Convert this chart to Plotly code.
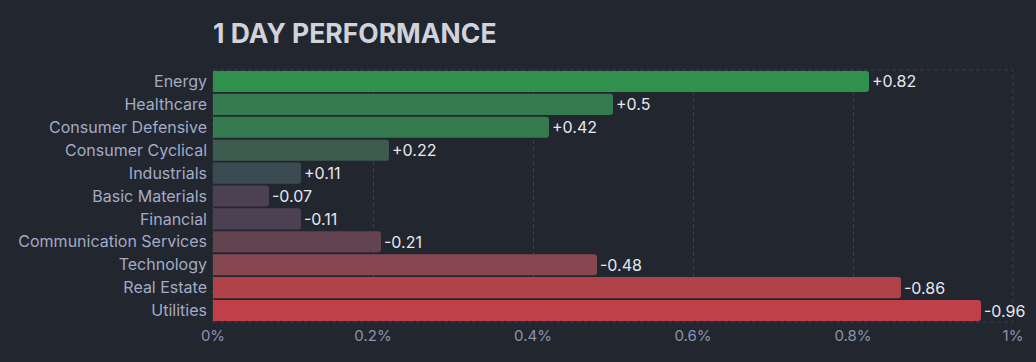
import plotly.graph_objects as go

sectors = ["Energy", "Healthcare", "Consumer Defensive", "Consumer Cyclical", "Industrials",
           "Basic Materials", "Financial", "Communication Services", "Technology",
           "Real Estate", "Utilities"]
changes = [0.82, 0.5, 0.42, 0.22, 0.11, -0.07, -0.11, -0.21, -0.48, -0.86, -0.96]
bar_colors = ["#30914f", "#367a50", "#367a50", "#3d5c4f", "#3c4a53", "#4c4152", "#4c4152",
              "#62434f", "#864750", "#b0434a", "#bf4048"]
x_ticks = [0, 0.2, 0.4, 0.6, 0.8, 1.0]
x_tick_labels = ["0%", "0.2%", "0.4%", "0.6%", "0.8%", "1%"]

labels = [("+" if v > 0 else "") + f"{v:g}" for v in changes]

fig = go.Figure(go.Bar(
    x=[abs(v) for v in changes],
    y=sectors,
    orientation="h",
    marker=dict(color=bar_colors, line=dict(width=0)),
    text=labels,
    textposition="outside",
    textfont=dict(color="#e6e8ee", size=16, family="Inter"),
    cliponaxis=False,
    hoverinfo="skip",
))

bg = "#22262f"
grid = "#3a3f4b"
fig.update_layout(
    width=1036, height=362,
    paper_bgcolor=bg, plot_bgcolor=bg,
    margin=dict(l=213, r=23, t=70, b=40),
    bargap=0.08,
    barcornerradius=3,
    showlegend=False,
    font=dict(family="Inter", color="#a3abc5", size=16),
    title=dict(text="<b>1 DAY PERFORMANCE</b>", x=213 / 1036, xanchor="left",
               y=1 - 33.5 / 362, yanchor="middle",
               font=dict(size=26.5, color="#d0d3dc", family="Inter")),
    xaxis=dict(range=[0, 1], tickvals=x_ticks, ticktext=x_tick_labels,
               showgrid=True, gridcolor=grid, griddash="4px,3px", gridwidth=1,
               zeroline=False, showline=False, ticks="", ticklabelstandoff=3,
               tickfont=dict(size=15, color="#8a94b0")),
    yaxis=dict(autorange="reversed", showgrid=False, zeroline=False, showline=False,
               ticks="", ticklabelstandoff=5,
               tickfont=dict(size=16, color="#a3abc5")),
    shapes=[dict(type="rect", xref="paper", yref="paper", x0=0, x1=1, y0=0, y1=1,
                 line=dict(color=grid, width=1, dash="4px,3px"), layer="below")],
)

fig.write_html("out.html", config={"displayModeBar": False},
               post_script="document.body.style.margin='0';document.body.style.background='#22262f';")
